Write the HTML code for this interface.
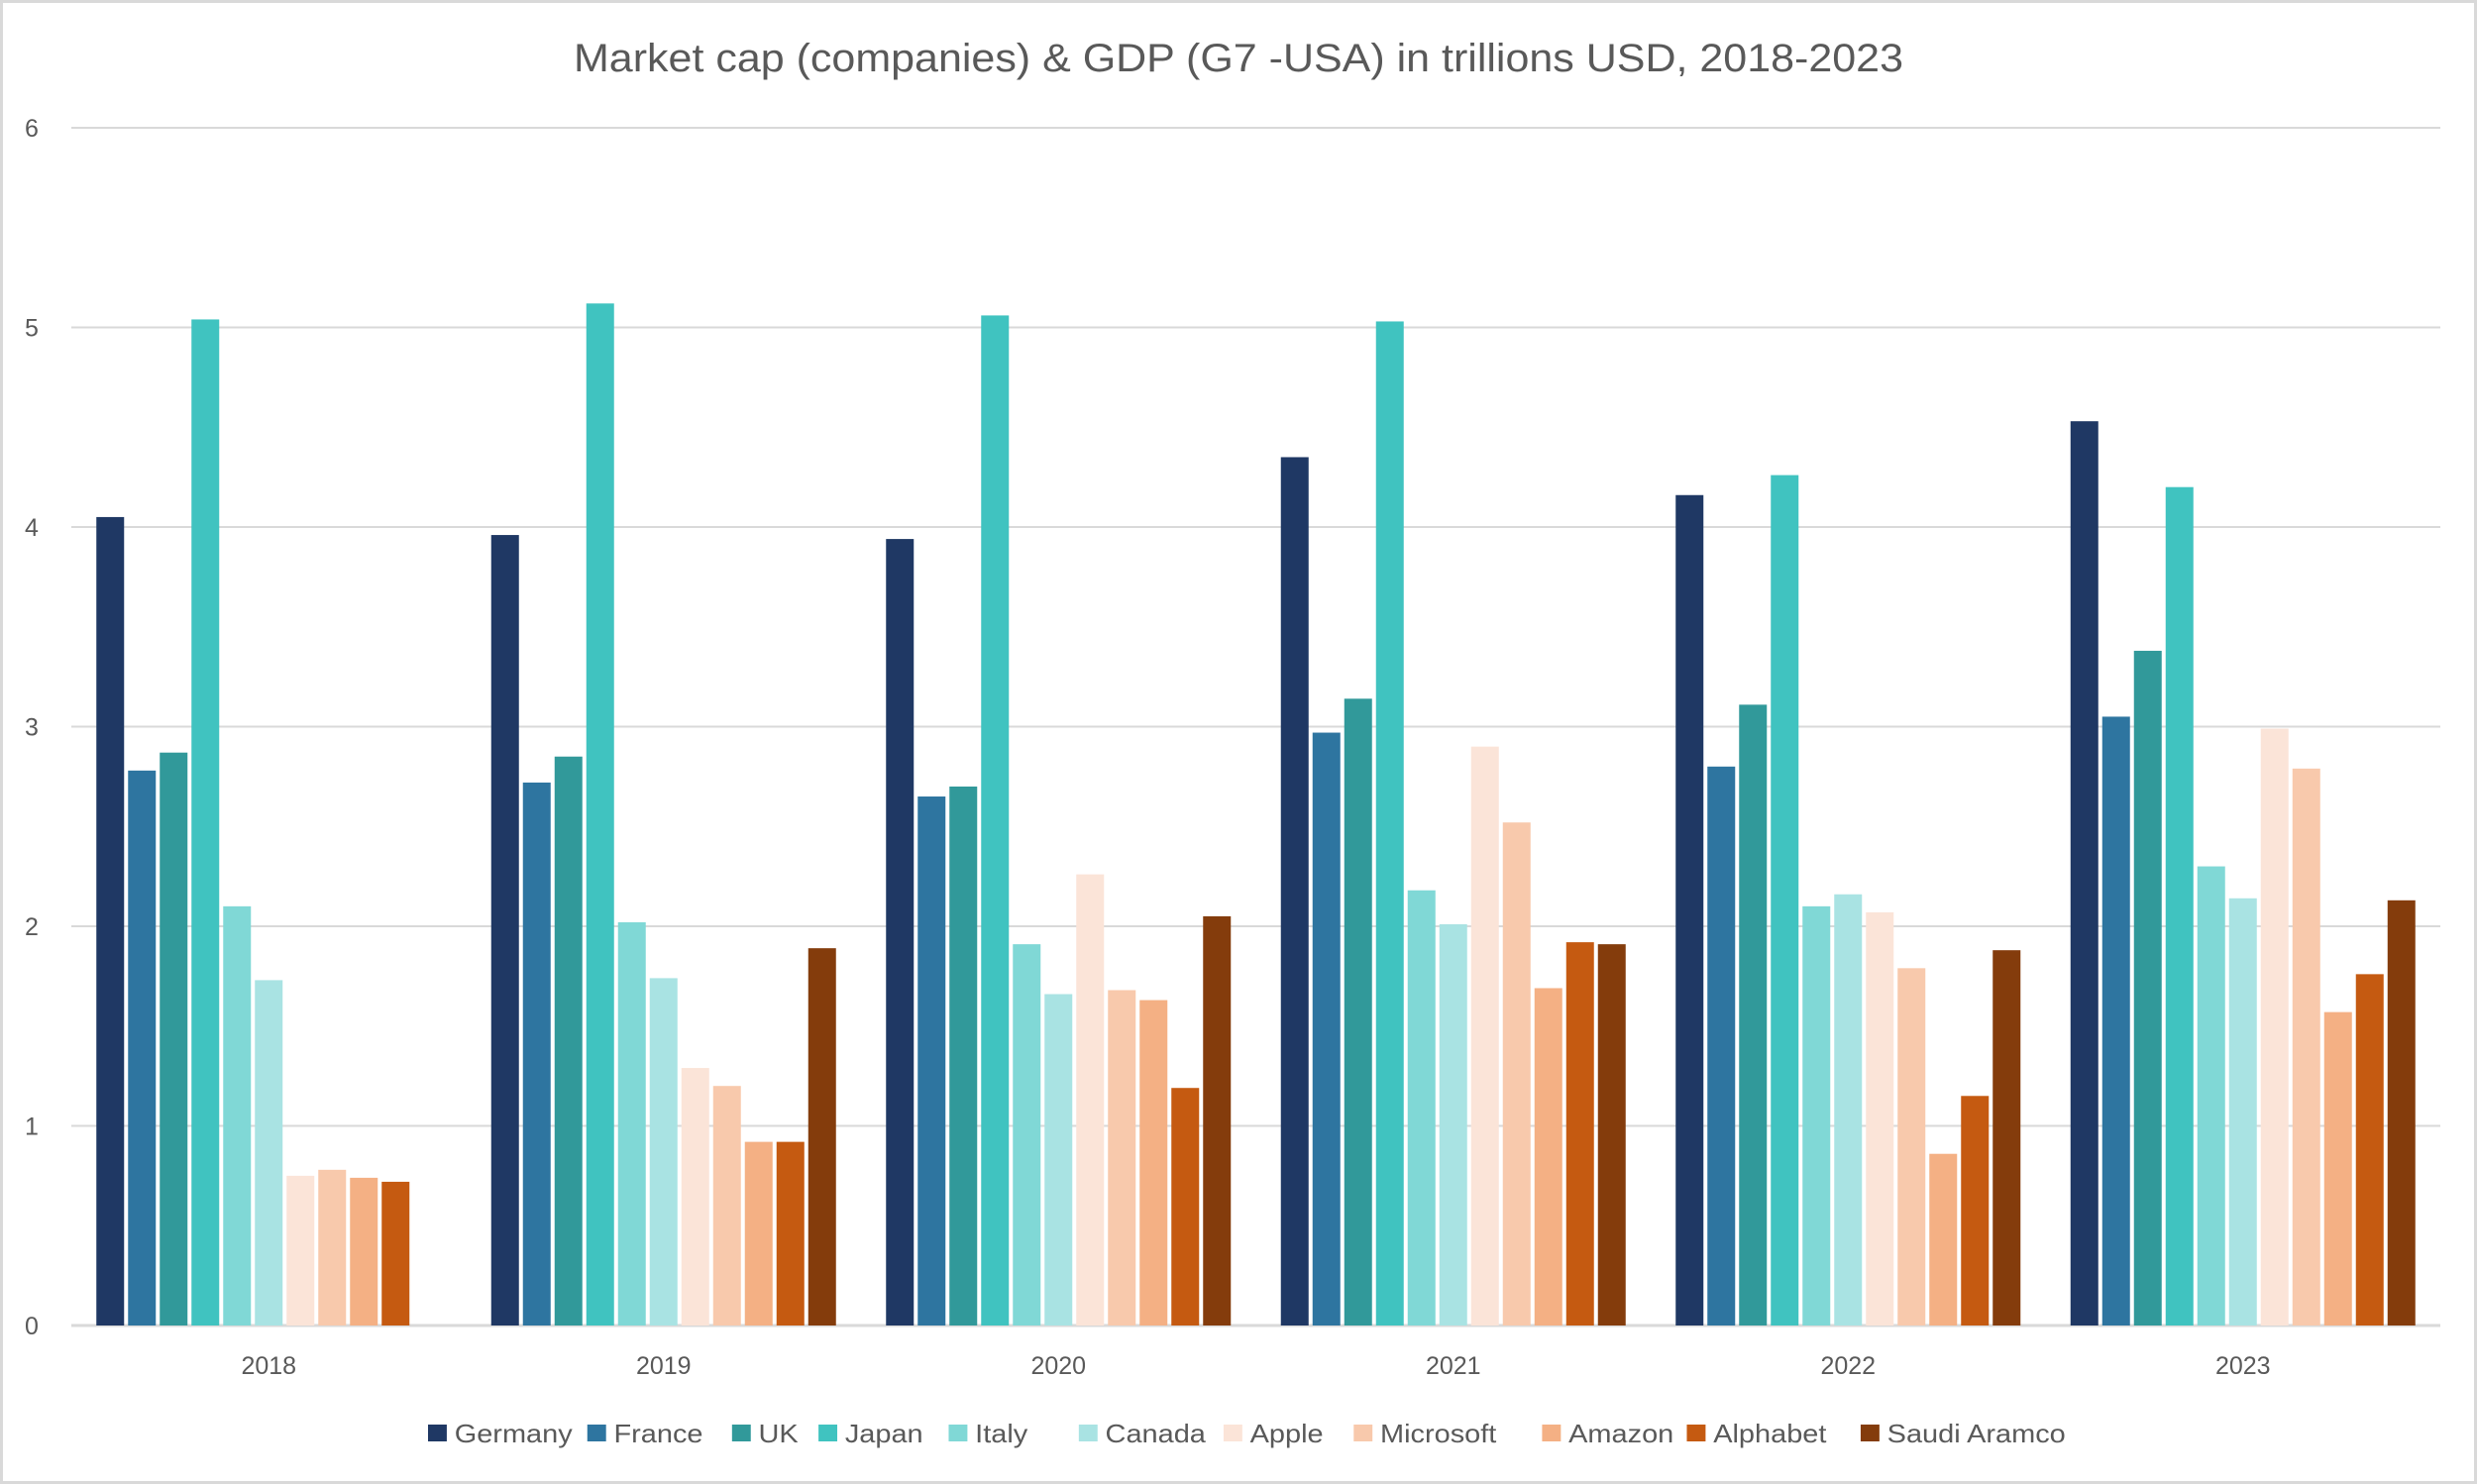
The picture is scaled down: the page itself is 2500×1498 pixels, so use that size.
<!DOCTYPE html>
<html><head><meta charset="utf-8"><style>
html,body{margin:0;padding:0;background:#fff;}
svg{display:block;font-family:"Liberation Sans",sans-serif;}
</style></head><body>
<svg id="chart" width="2500" height="1498" viewBox="0 0 2500 1498" xmlns="http://www.w3.org/2000/svg">
<rect x="1.5" y="1.5" width="2497" height="1495" fill="#fff" stroke="#d9d9d9" stroke-width="3"/>
<text x="1250" y="72" text-anchor="middle" font-size="40" fill="#595959" textLength="1342" lengthAdjust="spacingAndGlyphs">Market cap (companies) &amp; GDP (G7 -USA) in trillions USD, 2018-2023</text>
<g id="grid"></g><g id="bars"></g><g id="axes"></g><g id="legend"></g>
</svg>
<script>
const categories = ["2018","2019","2020","2021","2022","2023"];
const seriesNames = ["Germany","France","UK","Japan","Italy","Canada","Apple","Microsoft","Amazon","Alphabet","Saudi Aramco"];
const germany = [4.05,3.96,3.94,4.35,4.16,4.53];
const france = [2.78,2.72,2.65,2.97,2.80,3.05];
const uk = [2.87,2.85,2.70,3.14,3.11,3.38];
const japan = [5.04,5.12,5.06,5.03,4.26,4.20];
const italy = [2.10,2.02,1.91,2.18,2.10,2.30];
const canada = [1.73,1.74,1.66,2.01,2.16,2.14];
const apple = [0.75,1.29,2.26,2.90,2.07,2.99];
const microsoft = [0.78,1.20,1.68,2.52,1.79,2.79];
const amazon = [0.74,0.92,1.63,1.69,0.86,1.57];
const alphabet = [0.72,0.92,1.19,1.92,1.15,1.76];
const aramco = [0,1.89,2.05,1.91,1.88,2.13];
const yTicks = [0,1,2,3,4,5,6];
const seriesValues = [germany,france,uk,japan,italy,canada,apple,microsoft,amazon,alphabet,aramco];
const colors = ["#1F3864","#2E75A0","#31999A","#40C3C0","#80D8D6","#A9E3E3","#FBE4D8","#F8C9AC","#F4B084","#C55A11","#843C0C"];
const NS="http://www.w3.org/2000/svg";
const X0=72,X1=2463,Y0=1338,Y6=129,YMAX=6;
const yScale=v=>Y0-(v/YMAX)*(Y0-Y6);
const catW=(X1-X0)/categories.length;
const pitch=32,barW=28;
const groupOff=(catW-pitch*seriesNames.length)/2;
function mk(tag,attrs,parent){const e=document.createElementNS(NS,tag);for(const k in attrs)e.setAttribute(k,attrs[k]);parent.appendChild(e);return e;}
const grid=document.getElementById('grid'),bars=document.getElementById('bars'),axes=document.getElementById('axes'),legend=document.getElementById('legend');
yTicks.forEach(t=>{
  const y=yScale(t);
  const l=mk('line',{x1:X0,x2:X1,y1:y,y2:y,stroke:'#d9d9d9','stroke-width':t===0?3:2},grid);
  
  
  const tx=mk('text',{x:32,y:y+9,'text-anchor':'middle','font-size':25,fill:'#595959'},axes);
  tx.textContent=t;
  
  
});
categories.forEach((c,i)=>{
  const cx=X0+catW*i;
  seriesValues.forEach((arr,s)=>{
    const v=arr[i]; if(!v) return;
    const y=yScale(v);
    const r=mk('rect',{x:cx+groupOff+s*pitch+(pitch-barW)/2,y:y,width:barW,height:Y0-y,fill:colors[s]},bars);
    
    
  });
  const t=mk('text',{x:cx+catW/2,y:1387,'text-anchor':'middle','font-size':25,fill:'#595959'},axes);
  t.textContent=c;
  
  
});
// legend
let lx=432;
const widths=seriesNames.map(n=>n.length*13.2);
seriesNames.forEach((n,s)=>{
  const g=mk('g',{},legend);
  
  
  mk('rect',{x:lx,y:1438,width:17,height:17,fill:colors[s]},g);
  const t=mk('text',{x:lx+24,y:1456,'font-size':26,fill:'#595959'},g);
  t.textContent=n;
  lx+=24+widths[s]+28;
});
// rescale legend to span 432..2081
const total=lx-28-432;
legend.setAttribute('transform','translate(432,0) scale('+((2081-432)/total)+',1) translate(-432,0)');
</script>
</body></html>
